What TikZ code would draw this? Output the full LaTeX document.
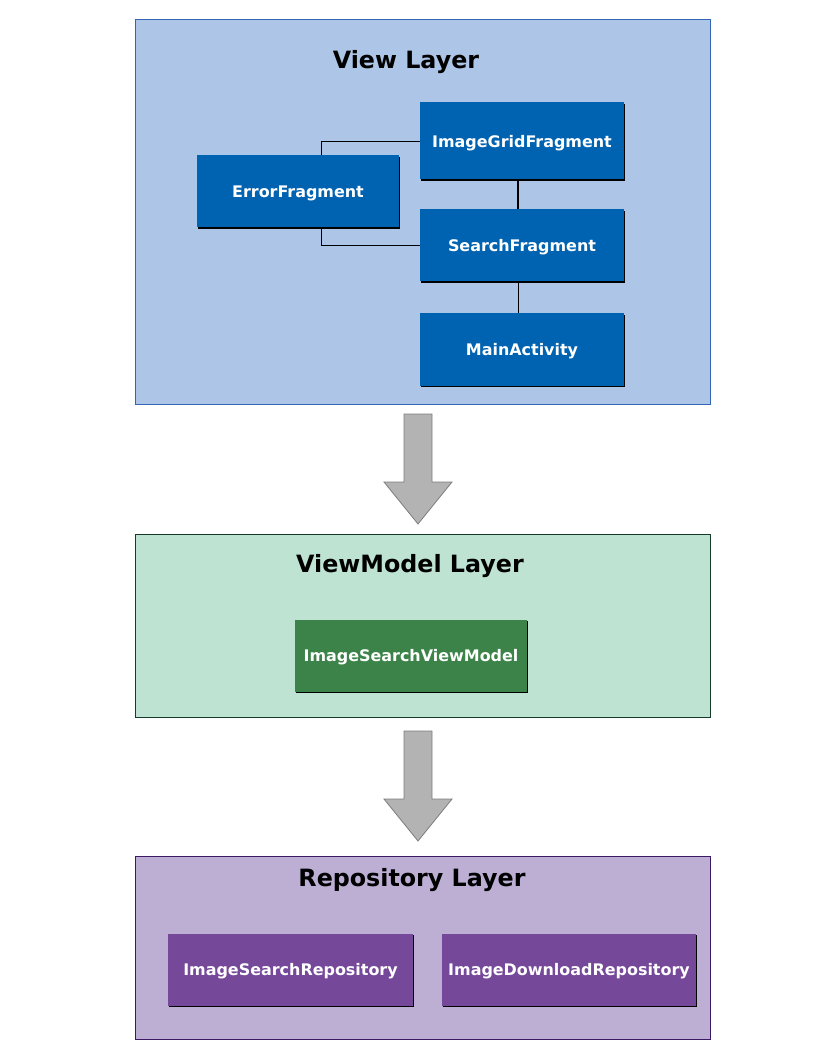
\documentclass[tikz,border=0pt]{standalone}
\usepackage{fontspec}
\setmainfont{DejaVu Sans}
\usepackage{tikz}
\usetikzlibrary{calc,positioning,shadows}
\definecolor{viewFill}{RGB}{173,197,231}
\definecolor{viewEdge}{RGB}{52,101,180}
\definecolor{viewBox}{RGB}{0,99,177}
\definecolor{vmFill}{RGB}{191,227,211}
\definecolor{vmEdge}{RGB}{20,60,40}
\definecolor{vmBox}{RGB}{60,131,73}
\definecolor{repoFill}{RGB}{189,174,212}
\definecolor{repoEdge}{RGB}{60,25,100}
\definecolor{repoBox}{RGB}{117,72,154}
\definecolor{arrFill}{RGB}{179,179,179}
\definecolor{arrEdge}{RGB}{125,125,125}

\begin{document}
\begin{tikzpicture}[x=0.75bp,y=-0.75bp,
  layer/.style={rectangle,inner sep=0pt,minimum width=431.25bp,line width=0.6pt},
  ltitle/.style={font=\fontsize{17.9}{21}\selectfont\bfseries,text=black,text depth=0pt},
  comp/.style={rectangle,inner sep=0pt,text=white,minimum height=54bp,text depth=0pt,
               font=\fontsize{12}{14}\selectfont\bfseries,
               drop shadow={shadow xshift=0.9bp,shadow yshift=-0.9bp,opacity=1,fill=black}},
  link/.style={draw=black,line width=0.6pt},
  bigarr/.style={fill=arrFill,draw=arrEdge,line width=0.6pt}
]
  \useasboundingbox (0,0) rectangle (816,1056);

  % layers
  \node[layer,fill=viewFill,draw=viewEdge,minimum height=288.75bp](view) at (422.5,211.5){};
  \node[layer,fill=vmFill,draw=vmEdge,minimum height=137.25bp](vm) at (422.5,625.5){};
  \node[layer,fill=repoFill,draw=repoEdge,minimum height=137.25bp](repo) at (422.5,947.5){};

  \node[ltitle](viewT) at (406,59){View Layer};
  \node[ltitle](vmT) at (410,563){ViewModel Layer};
  \node[ltitle](repoT) at (412,877){Repository Layer};

  % ── View Layer ──
  \node[comp,fill=viewBox,minimum width=153bp,minimum height=57.75bp](grid) at (522,141){ImageGridFragment};
  \node[comp,fill=viewBox,minimum width=151.5bp](err) at (298,191.5){ErrorFragment};
  \node[comp,fill=viewBox,minimum width=153bp](search) at (522,245.5){SearchFragment};
  \node[comp,fill=viewBox,minimum width=153bp](main) at (522,349.5){MainActivity};

  \draw[link]($(err.north)+(23,0)$) |- (grid.west);
  \draw[link]($(err.south)+(23,0)$) |- (search.west);
  \draw[link,line width=1.2pt]($(grid.south)+(-4,0)$) -- ($(search.north)+(-4,0)$);
  \draw[link]($(search.south)+(-4,0)$) -- ($(main.north)+(-4,0)$);

  % ── ViewModel Layer ──
  \node[comp,fill=vmBox,minimum width=174bp](vmodel) at (411,655.5){ImageSearchViewModel};

  % ── Repository Layer ──
  \node[comp,fill=repoBox,minimum width=183.75bp](srepo) at (290.5,969.5){ImageSearchRepository};
  \node[comp,fill=repoBox,minimum width=190.5bp](drepo) at (569,969.5){ImageDownloadRepository};

  % block arrows between layers
  \foreach \y in {414,731}{
    \draw[bigarr](404,\y)--(432,\y)--(432,\y+68)--(452,\y+68)--(418,\y+110)
      --(384,\y+68)--(404,\y+68)--cycle;
  }
\end{tikzpicture}
\end{document}
